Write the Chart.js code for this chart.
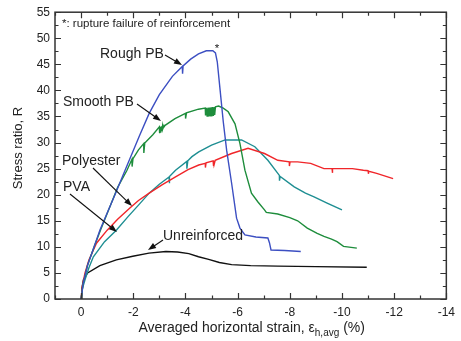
<!DOCTYPE html>
<html>
<head>
<meta charset="utf-8">
<script src="https://cdn.jsdelivr.net/npm/chart.js@4"></script>
<style>
  html, body { margin: 0; padding: 0; background: #fff; }
  canvas { display: block; }
</style>
</head>
<body>
<canvas id="chart" width="461" height="341"></canvas>
<script>
// strain (%) vs stress ratio; small glitches kept as they appear
const roughPB = [[0,0],[-0.08,3],[-0.25,6.5],[-0.5,10],[-0.72,13.2],[-1.0,16.5],[-1.29,19.9],[-1.73,25.2],
  [-2.23,31.2],[-2.61,35.6],[-3.0,39.2],[-3.5,42.7],[-3.88,44.6],[-3.89,43.2],[-3.91,44.7],[-4.2,46.0],
  [-4.5,47],[-4.8,47.6],[-5.05,47.6],[-5.15,47.2],[-5.22,45.5],[-5.33,40],[-5.45,34],[-5.58,28.5],[-5.77,22.2],
  [-5.96,15.5],[-6.09,13.6],[-6.28,12.3],[-6.7,11.9],[-7.16,11.7],[-7.22,10.8],[-7.28,9.4],[-7.8,9.3],[-8.42,9.1]];

const smoothPB = [[0,0],[-0.08,3],[-0.25,6.5],[-0.5,10],[-0.75,13.3],[-1.05,17],[-1.41,21.5],[-1.75,24.6],
  [-1.95,26.8],[-1.955,25.4],[-1.99,26.9],[-2.2,28.6],[-2.4,29.8],[-2.405,28],[-2.44,29.9],[-2.75,31.5],
  [-3.0,33.0],[-3.01,31.8],[-3.04,33.05],[-3.05,31.9],[-3.08,33.1],[-3.09,32.2],[-3.12,33.15],[-3.13,32.6],
  [-3.17,33.2],[-3.18,33.0],[-3.22,33.3],[-3.6,34.6],[-4.0,35.6],[-4.005,34.6],[-4.04,35.7],
  [-4.5,36.4],[-4.76,36.6],[-4.77,35.2],[-4.8,36.65],[-4.83,35.1],[-4.86,36.7],[-4.89,35.0],[-4.92,36.7],
  [-4.95,35.0],[-4.98,36.75],[-5.01,35.0],[-5.04,36.8],[-5.07,35.1],[-5.1,36.8],[-5.12,35.3],[-5.15,36.85],
  [-5.27,37.0],[-5.45,36.6],[-5.64,35.9],
  [-5.9,33.6],[-6.09,29.8],[-6.28,24.7],[-6.53,20.3],[-6.78,18.6],[-7.03,17.1],[-7.1,16.6],[-7.54,16.3],
  [-8.0,15.6],[-8.3,15.0],[-8.67,13.6],[-9.05,12.6],[-9.31,12.0],[-9.6,11.5],[-9.81,11.0],[-10.06,10.1],[-10.57,9.75]];

const polyester = [[0,0],[-0.05,2.5],[-0.15,5],[-0.3,7.5],[-0.59,10.7],[-1.0,13.2],[-1.4,15.3],[-1.86,17.4],
  [-2.2,18.9],[-2.61,20.3],[-3.1,21.9],[-3.62,23.4],[-4.1,24.8],[-4.51,25.7],[-4.76,26.0],[-4.765,25.2],
  [-4.79,26.1],[-5.06,26.5],[-5.065,25.5],[-5.09,26.4],[-5.095,25.7],[-5.14,26.6],[-5.77,27.9],[-6.4,28.9],[-7.03,27.9],[-7.54,26.6],
  [-7.98,26.3],[-7.985,25.5],[-8.01,26.3],[-8.3,26.3],[-8.8,26.0],[-9.31,25.0],[-9.62,25.0],[-9.625,24.2],
  [-9.65,25.0],[-9.94,25.0],[-10.4,25.0],[-10.82,24.7],[-11.0,24.6],[-11.005,24.0],[-11.03,24.5],[-11.33,24.1],[-11.96,23.1]];

const pva = [[0,0],[-0.05,2],[-0.15,3.7],[-0.3,6],[-0.47,8.1],[-0.9,11],[-1.35,13.2],[-1.8,15.8],[-2.2,18],
  [-2.61,20.3],[-3.0,22],[-3.37,23.4],[-3.375,22.2],[-3.4,23.5],[-3.62,24.7],[-4.05,26.4],[-4.055,25],
  [-4.09,26.5],[-4.25,27.3],[-4.51,28.2],[-5.0,29.5],[-5.52,30.5],[-6.15,30.5],[-6.66,29.2],[-7.16,26.6],
  [-7.6,23.7],[-7.605,22.7],[-7.63,23.5],[-8.17,21.5],[-8.6,20.3],[-8.93,19.6],[-9.43,18.4],[-10.0,17.1]];

const unreinforced = [[0,0],[-0.03,2],[-0.09,3.7],[-0.25,5],[-0.72,6.4],[-1.35,7.5],[-1.98,8.2],[-2.6,8.8],
  [-3.25,9.1],[-3.7,9.0],[-4.13,8.7],[-4.5,8.1],[-4.89,7.6],[-5.3,7.0],[-5.77,6.6],[-6.5,6.4],[-7.54,6.3],
  [-9.0,6.2],[-10.95,6.1]];

const seriesNames = ['Rough PB', 'Smooth PB', 'Polyester', 'PVA', 'Unreinforced'];
const seriesData = [roughPB, smoothPB, polyester, pva, unreinforced];
const seriesColors = ['#3c4fc2', '#1e8d3c', '#f0262a', '#1e8e92', '#111111'];

const xTicks = [0, -2, -4, -6, -8, -10, -12, -14];

const FONT = "'Liberation Sans', Arial, sans-serif";

function arrow(ctx, x1, y1, x2, y2) {
  const a = Math.atan2(y2 - y1, x2 - x1);
  const len = 8, w = 3;
  ctx.beginPath();
  ctx.moveTo(x1, y1);
  ctx.lineTo(x2 - Math.cos(a) * len * 0.8, y2 - Math.sin(a) * len * 0.8);
  ctx.stroke();
  ctx.beginPath();
  ctx.moveTo(x2, y2);
  ctx.lineTo(x2 - Math.cos(a) * len - Math.sin(a) * w, y2 - Math.sin(a) * len + Math.cos(a) * w);
  ctx.lineTo(x2 - Math.cos(a) * len + Math.sin(a) * w, y2 - Math.sin(a) * len - Math.cos(a) * w);
  ctx.closePath();
  ctx.fill();
}

const decorations = {
  id: 'decorations',
  afterDraw(chart) {
    const ctx = chart.ctx;
    const { left, right, top, bottom } = chart.chartArea;
    const xs = chart.scales.x, ys = chart.scales.y;
    ctx.save();
    ctx.strokeStyle = '#333';
    ctx.fillStyle = '#222';
    ctx.lineWidth = 1.5;
    ctx.strokeRect(left, top, right - left, bottom - top);

    // inward ticks, all four sides
    ctx.lineWidth = 1.2;
    ctx.beginPath();
    for (let v = 1; v >= -14; v--) {
      const px = Math.round(xs.getPixelForValue(v)) + 0.5;
      const l = v % 2 === 0 ? 6 : 3.5;
      ctx.moveTo(px, bottom); ctx.lineTo(px, bottom - l);
      ctx.moveTo(px, top); ctx.lineTo(px, top + l);
    }
    for (let v = 0; v <= 55; v += 2.5) {
      const py = Math.round(ys.getPixelForValue(v)) + 0.5;
      const l = v % 5 === 0 ? 6 : 3.5;
      ctx.moveTo(left, py); ctx.lineTo(left + l, py);
      ctx.moveTo(right, py); ctx.lineTo(right - l, py);
    }
    ctx.stroke();

    // axis titles
    ctx.fillStyle = '#222';
    ctx.textBaseline = 'alphabetic';
    const t1 = 'Averaged horizontal strain, \u03b5';
    ctx.font = '14px ' + FONT;
    const w1 = ctx.measureText(t1).width;
    ctx.font = '10px ' + FONT;
    const w2 = ctx.measureText('h,avg').width;
    ctx.font = '14px ' + FONT;
    const w3 = ctx.measureText(' (%)').width;
    const x0 = (left + right) / 2 - (w1 + w2 + w3) / 2 + 1;
    ctx.textAlign = 'left';
    ctx.fillText(t1, x0, 332);
    ctx.font = '10px ' + FONT;
    ctx.fillText('h,avg', x0 + w1, 336);
    ctx.font = '14px ' + FONT;
    ctx.fillText(' (%)', x0 + w1 + w2, 332);

    ctx.save();
    ctx.translate(22, 148);
    ctx.rotate(-Math.PI / 2);
    ctx.textAlign = 'center';
    ctx.font = '13px ' + FONT;
    ctx.fillText('Stress ratio, R', 0, 0);
    ctx.restore();

    // annotations
    ctx.textAlign = 'left';
    ctx.font = '11.5px ' + FONT;
    ctx.fillText('*: rupture failure of reinforcement', 62, 27);
    ctx.textAlign = 'center';
    ctx.fillText('*', 217, 52);
    ctx.textAlign = 'left';
    ctx.font = '14px ' + FONT;
    ctx.fillText(seriesNames[0], 100, 58);
    ctx.fillText(seriesNames[1], 63, 106);
    ctx.fillText(seriesNames[2], 62, 165);
    ctx.fillText(seriesNames[3], 63, 191);
    ctx.fillText(seriesNames[4], 163, 240);

    ctx.strokeStyle = '#111';
    ctx.fillStyle = '#111';
    ctx.lineWidth = 1.1;
    arrow(ctx, 165, 55, 182, 65);
    arrow(ctx, 137, 104, 161, 121);
    arrow(ctx, 93, 168, 132, 206);
    arrow(ctx, 70, 194, 117, 232);
    arrow(ctx, 163, 240, 148, 250);
    ctx.restore();
  }
};

new Chart(document.getElementById('chart'), {
  type: 'scatter',
  data: {
    datasets: seriesData.map((pts, i) => ({
      label: seriesNames[i],
      data: pts.map(p => ({ x: p[0], y: p[1] })),
      showLine: true,
      borderColor: seriesColors[i],
      borderWidth: 1.4,
      pointRadius: 0,
      tension: 0,
      fill: false
    }))
  },
  options: {
    responsive: false,
    animation: false,
    devicePixelRatio: 1,
    layout: { padding: { left: 0, right: 11, top: 12, bottom: 0 } },
    plugins: { legend: { display: false }, tooltip: { enabled: false } },
    scales: {
      x: {
        type: 'linear',
        min: -14,
        max: 1,
        reverse: true,
        afterBuildTicks: s => { s.ticks = xTicks.map(v => ({ value: v })); },
        afterFit: s => { s.height = 42; },
        grid: { display: false, drawTicks: false },
        border: { display: false },
        ticks: { padding: 6, color: '#222', font: { family: FONT, size: 12 }, maxRotation: 0 }
      },
      y: {
        min: 0,
        max: 55,
        afterFit: s => { s.width = 55; },
        grid: { display: false, drawTicks: false },
        border: { display: false },
        ticks: { stepSize: 5, padding: 5, color: '#222', font: { family: FONT, size: 12 } }
      }
    }
  },
  plugins: [decorations]
});
</script>
</body>
</html>
